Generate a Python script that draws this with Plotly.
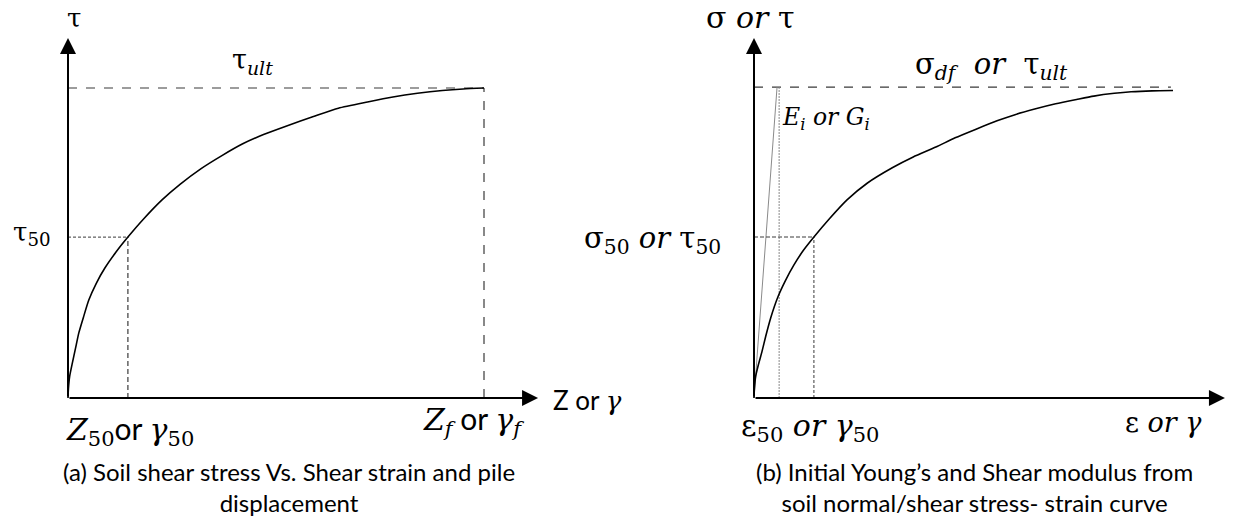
import plotly.graph_objects as go

# ---- data -------------------------------------------------------------
# (a) normalised shear strain / displacement vs shear stress
strain_a = [0, 0.001, 0.004, 0.01, 0.018, 0.026, 0.037, 0.05, 0.068, 0.089, 0.115, 0.144,
            0.18, 0.226, 0.27, 0.32, 0.37, 0.42, 0.47, 0.524, 0.59, 0.65, 0.72, 0.781,
            0.84, 0.9, 0.95, 1.0]
stress_a = [0, 0.03, 0.07, 0.11, 0.16, 0.21, 0.26, 0.316, 0.37, 0.42, 0.47, 0.519,
            0.575, 0.639, 0.69, 0.74, 0.782, 0.82, 0.85, 0.877, 0.908, 0.935, 0.955, 0.971,
            0.983, 0.992, 0.997, 1.0]
tau_ult_a = 1.0
z_f_a = 1.0
tau50_a = 0.519
z50_a = 0.144

# (b) normalised strain vs normal/shear stress
strain_b = [0, 0.001, 0.004, 0.01, 0.019, 0.028, 0.04, 0.057, 0.075, 0.095, 0.118, 0.143,
            0.18, 0.222, 0.27, 0.33, 0.38, 0.434, 0.48, 0.53, 0.58, 0.623, 0.67, 0.72,
            0.77, 0.811, 0.86, 0.9, 0.95, 1.0]
stress_b = [0, 0.03, 0.07, 0.105, 0.15, 0.2, 0.26, 0.327, 0.38, 0.43, 0.478, 0.521,
            0.58, 0.641, 0.695, 0.745, 0.78, 0.812, 0.842, 0.87, 0.897, 0.917, 0.935, 0.952,
            0.966, 0.977, 0.986, 0.991, 0.994, 0.995]
sigma_df_b = 1.006
sigma_df_end_b = 0.995
sigma50_b = 0.521
eps50_b = 0.143
ei_top_b = 0.055      # strain where initial tangent reaches sigma_df
ei_vert_b = 0.06      # vertical reference at the initial tangent

# axis arrow extents (normalised units)
xtip_a, ytip_a = 1.13, 1.161
xtip_b, ytip_b = 1.124, 1.165

W, H = 1239, 521
SANS = "Lato"
SERIF = "DejaVu Serif"
BLACK = "#000000"
GREY = "#3a3a3a"
SP = "&nbsp;"


def it(s):
    return f"<i>{s}</i>"


def sans(s):
    return f"<span style='font-family:{SANS}'>{s}</span>"


def sub(s):
    return f"<sub>{s}</sub>"


fig = go.Figure()

# ---- panel (a) --------------------------------------------------------
fig.add_trace(go.Scatter(x=[0, z_f_a], y=[tau_ult_a, tau_ult_a], mode="lines",
                         line=dict(color=GREY, width=1.2, dash="dash"), xaxis="x", yaxis="y"))
fig.add_trace(go.Scatter(x=[z_f_a, z_f_a], y=[0, tau_ult_a], mode="lines",
                         line=dict(color=GREY, width=1.2, dash="dash"), xaxis="x", yaxis="y"))
fig.add_trace(go.Scatter(x=[0, z50_a], y=[tau50_a, tau50_a], mode="lines",
                         line=dict(color=GREY, width=1, dash="3px,2px"), xaxis="x", yaxis="y"))
fig.add_trace(go.Scatter(x=[z50_a, z50_a], y=[0, tau50_a], mode="lines",
                         line=dict(color=GREY, width=1.2, dash="5px,3px"), xaxis="x", yaxis="y"))
fig.add_trace(go.Scatter(x=strain_a, y=stress_a, mode="lines",
                         line=dict(color=BLACK, width=1.6, shape="spline", smoothing=0.6),
                         xaxis="x", yaxis="y"))

# ---- panel (b) --------------------------------------------------------
fig.add_trace(go.Scatter(x=[0, sigma_df_end_b], y=[sigma_df_b, sigma_df_b], mode="lines",
                         line=dict(color=GREY, width=1.2, dash="dash"), xaxis="x2", yaxis="y2"))
fig.add_trace(go.Scatter(x=[0, ei_top_b], y=[0, sigma_df_b], mode="lines",
                         line=dict(color="#8a8a8a", width=1), xaxis="x2", yaxis="y2"))
fig.add_trace(go.Scatter(x=[ei_vert_b, ei_vert_b], y=[0, sigma_df_b], mode="lines",
                         line=dict(color="#8a8a8a", width=1, dash="2px,1px"), xaxis="x2", yaxis="y2"))
fig.add_trace(go.Scatter(x=[0, eps50_b], y=[sigma50_b, sigma50_b], mode="lines",
                         line=dict(color=GREY, width=1, dash="4px,2px"), xaxis="x2", yaxis="y2"))
fig.add_trace(go.Scatter(x=[eps50_b, eps50_b], y=[0, sigma50_b], mode="lines",
                         line=dict(color=GREY, width=1, dash="3px,2px"), xaxis="x2", yaxis="y2"))
fig.add_trace(go.Scatter(x=strain_b, y=stress_b, mode="lines",
                         line=dict(color=BLACK, width=1.6, shape="spline", smoothing=0.6),
                         xaxis="x2", yaxis="y2"))

# ---- axis arrows ------------------------------------------------------
annotations = []
for xr, yr, xt, yt in [("x", "y", xtip_a, ytip_a), ("x2", "y2", xtip_b, ytip_b)]:
    for (x, y) in [(xt, 0), (0, yt)]:
        annotations.append(dict(x=x, y=y, ax=0, ay=0, xref=xr, yref=yr, axref=xr, ayref=yr,
                                text="", showarrow=True, arrowhead=2, arrowsize=1.6,
                                arrowwidth=2, arrowcolor=BLACK, standoff=0, startstandoff=0))


def label(text, x, y, size=24, xanchor="center", family=SERIF):
    annotations.append(dict(text=text, x=x / W, y=1 - y / H, xref="paper", yref="paper",
                            xanchor=xanchor, yanchor="middle", showarrow=False,
                            font=dict(family=family, size=size, color=BLACK)))


# panel (a) labels
label("τ", 74, 18, size=26)
label("τ" + sub(it("ult")), 252, 62, size=27)
label("τ" + sub("50"), 53, 233, size=26, xanchor="right")
label(it("Z") + sub("50") + sans("or ") + it("γ") + sub("50"), 130, 430, size=30)
label(it("Z") + sub(it("f")) + sans(" or ") + it("γ") + sub(it("f")), 473, 420, size=30)
label(sans("Z or ") + it("γ"), 551, 400, size=26, xanchor="left")
label("(a) Soil shear stress Vs. Shear strain and pile<br>displacement", 289, 487, size=24,
      family=SANS)

# panel (b) labels
label("σ " + it("or") + " τ", 750, 17, size=30)
label("σ" + sub(it("df")) + SP + " " + it("or") + SP + " τ" + sub(it("ult")), 991, 66, size=29)
label(it("E") + sub(it("i")) + " " + it("or") + " " + it("G") + sub(it("i")), 780, 118, size=23.5,
      xanchor="left")
label("σ" + sub("50") + " " + it("or") + " τ" + sub("50"), 723, 240, size=29, xanchor="right")
label("ε" + sub("50") + " " + it("or") + " " + it("γ") + sub("50"), 810, 427, size=30)
label("ε " + it("or") + " " + it("γ"), 1163, 422, size=27)
label("(b) Initial Young’s and Shear modulus from<br>soil normal/shear stress- strain curve",
      974, 487, size=24, family=SANS)

# ---- axes: pixel-linear mapping for each panel -------------------------
ax_common = dict(visible=False, showgrid=False, zeroline=False, fixedrange=True)
split = 620 / W
fig.update_layout(
    width=W, height=H,
    margin=dict(l=0, r=0, t=0, b=0),
    paper_bgcolor="white", plot_bgcolor="white",
    showlegend=False,
    xaxis=dict(domain=[0, split], range=[-68 / 416, (620 - 68) / 416], **ax_common),
    yaxis=dict(domain=[0, 1], range=[(398 - 521) / 310, 398 / 310], **ax_common),
    xaxis2=dict(domain=[split, 1], range=[-(754 - 620) / 419, (1239 - 754) / 419],
                anchor="y2", **ax_common),
    yaxis2=dict(domain=[0, 1], range=[(398 - 521) / 309, 398 / 309], anchor="x2", **ax_common),
    annotations=annotations,
)

fig.write_html("out.html")
